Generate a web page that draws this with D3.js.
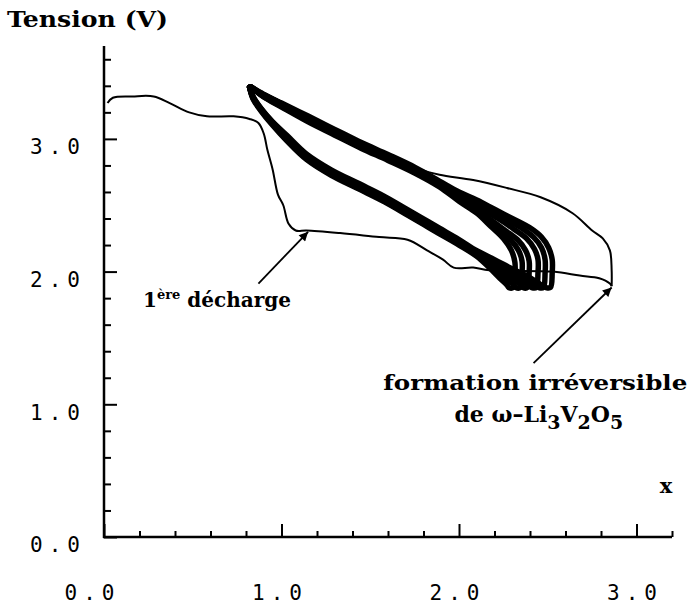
<!DOCTYPE html>
<html><head><meta charset="utf-8">
<script src="https://cdn.jsdelivr.net/npm/d3@7"></script>
<style>body{margin:0;background:#fff}svg{display:block}</style>
</head><body><svg id="c" width="696" height="611"></svg>
<script>
// ---- data ----
const xMajor = [0, 1, 2, 3];
const xMinor = [0.2,0.4,0.6,0.8,1.2,1.4,1.6,1.8,2.2,2.4,2.6,2.8,3.2];
const yMajor = [0, 1, 2, 3];
const yMinor = [0.2,0.4,0.6,0.8,1.2,1.4,1.6,1.8,2.2,2.4,2.6,2.8,3.2,3.4,3.6];

const firstDischarge = [[0.02,3.27],[0.05,3.31],[0.16,3.32],[0.28,3.32],[0.37,3.27],[0.48,3.20],[0.58,3.17],[0.73,3.17],[0.82,3.15],[0.87,3.12],[0.90,3.04],[0.92,2.92],[0.95,2.77],[0.98,2.58],[1.01,2.50],[1.04,2.36],[1.08,2.31],[1.14,2.31],[1.33,2.29],[1.55,2.26],[1.71,2.24],[1.82,2.16],[1.91,2.09],[1.97,2.03],[2.08,2.03],[2.17,2.01],[2.53,2.00],[2.68,1.97],[2.79,1.95],[2.85,1.91],[2.86,1.89]];
const firstCharge = [[2.86,1.89],[2.86,2.01],[2.85,2.16],[2.81,2.25],[2.75,2.31],[2.64,2.44],[2.46,2.56],[2.27,2.63],[2.08,2.69],[1.89,2.73],[1.78,2.77],[1.65,2.85],[1.50,2.94],[1.35,3.03],[1.20,3.13],[1.05,3.24],[0.93,3.33],[0.83,3.39]];

// subsequent cycles: discharge (top-left -> bottom-right) then charge (bottom-right -> top-left)
const cycle1Discharge = [[0.82,3.39],[0.84,3.30],[0.885,3.21],[0.945,3.11],[1.03,2.985],[1.14,2.845],[1.28,2.725],[1.43,2.625],[1.58,2.525],[1.71,2.425],[1.80,2.355],[1.89,2.285],[2.00,2.20],[2.10,2.115],[2.17,2.03],[2.23,1.95],[2.27,1.90],[2.28,1.88]];
const cycle1Charge = [[2.305,1.88],[2.315,1.98],[2.315,2.07],[2.295,2.16],[2.25,2.25],[2.18,2.34],[2.10,2.44],[2.00,2.53],[1.89,2.638],[1.75,2.743],[1.60,2.838],[1.45,2.928],[1.30,3.028],[1.15,3.128],[1.00,3.24],[0.90,3.315],[0.83,3.39]];
const cycle2Discharge = [[0.82,3.39],[0.84,3.305],[0.885,3.215],[0.945,3.118],[1.03,2.992],[1.14,2.852],[1.28,2.732],[1.43,2.632],[1.58,2.532],[1.71,2.432],[1.80,2.362],[1.89,2.292],[2.00,2.207],[2.10,2.122],[2.18,2.04],[2.25,1.96],[2.30,1.91],[2.32,1.88]];
const cycle2Charge = [[2.345,1.88],[2.355,1.99],[2.355,2.08],[2.335,2.16],[2.29,2.24],[2.22,2.32],[2.15,2.40],[2.07,2.48],[2.00,2.545],[1.89,2.647],[1.75,2.752],[1.60,2.847],[1.45,2.937],[1.30,3.037],[1.15,3.137],[1.00,3.245],[0.90,3.318],[0.83,3.39]];
const cycle3Discharge = [[0.82,3.39],[0.84,3.31],[0.885,3.22],[0.945,3.123],[1.03,3.001],[1.14,2.861],[1.28,2.741],[1.43,2.641],[1.58,2.541],[1.71,2.441],[1.80,2.371],[1.89,2.301],[2.00,2.216],[2.10,2.131],[2.20,2.05],[2.27,1.98],[2.33,1.92],[2.36,1.88]];
const cycle3Charge = [[2.385,1.88],[2.395,1.99],[2.395,2.08],[2.375,2.16],[2.33,2.24],[2.26,2.31],[2.18,2.39],[2.10,2.47],[2.00,2.56],[1.89,2.656],[1.75,2.761],[1.60,2.856],[1.45,2.946],[1.30,3.046],[1.15,3.146],[1.00,3.25],[0.90,3.322],[0.83,3.39]];
const cycle4Discharge = [[0.82,3.39],[0.84,3.31],[0.885,3.22],[0.945,3.127],[1.03,3.009],[1.14,2.869],[1.28,2.749],[1.43,2.649],[1.58,2.549],[1.71,2.449],[1.80,2.379],[1.89,2.309],[2.00,2.224],[2.10,2.139],[2.20,2.07],[2.28,2.00],[2.35,1.93],[2.39,1.90],[2.41,1.88]];
const cycle4Charge = [[2.435,1.88],[2.445,1.99],[2.445,2.09],[2.425,2.17],[2.38,2.25],[2.31,2.32],[2.22,2.40],[2.13,2.47],[2.05,2.53],[1.97,2.59],[1.89,2.664],[1.75,2.769],[1.60,2.864],[1.45,2.954],[1.30,3.054],[1.15,3.154],[1.00,3.26],[0.90,3.328],[0.83,3.39]];
const cycle5Discharge = [[0.82,3.39],[0.84,3.315],[0.885,3.225],[0.945,3.132],[1.03,3.018],[1.14,2.878],[1.28,2.758],[1.43,2.658],[1.58,2.558],[1.71,2.458],[1.80,2.388],[1.89,2.318],[2.00,2.233],[2.10,2.148],[2.20,2.08],[2.30,2.00],[2.37,1.95],[2.42,1.91],[2.45,1.88]];
const cycle5Charge = [[2.475,1.88],[2.485,1.99],[2.485,2.09],[2.465,2.18],[2.42,2.26],[2.35,2.33],[2.26,2.40],[2.17,2.47],[2.08,2.54],[2.00,2.59],[1.89,2.673],[1.75,2.778],[1.60,2.873],[1.45,2.963],[1.30,3.063],[1.15,3.163],[1.00,3.265],[0.90,3.332],[0.83,3.39]];
const cycle6Discharge = [[0.82,3.39],[0.84,3.32],[0.885,3.23],[0.945,3.136],[1.03,3.027],[1.14,2.887],[1.28,2.767],[1.43,2.667],[1.58,2.567],[1.71,2.467],[1.80,2.397],[1.89,2.327],[2.00,2.242],[2.10,2.157],[2.20,2.09],[2.30,2.02],[2.38,1.97],[2.44,1.92],[2.49,1.88]];
const cycle6Charge = [[2.515,1.88],[2.525,1.99],[2.525,2.09],[2.505,2.18],[2.465,2.26],[2.40,2.33],[2.30,2.40],[2.20,2.47],[2.10,2.54],[2.00,2.60],[1.89,2.682],[1.75,2.787],[1.60,2.882],[1.45,2.972],[1.30,3.072],[1.15,3.172],[1.00,3.27],[0.90,3.336],[0.83,3.39]];

const cycles = [
  cycle1Discharge.concat(cycle1Charge), cycle2Discharge.concat(cycle2Charge),
  cycle3Discharge.concat(cycle3Charge), cycle4Discharge.concat(cycle4Charge),
  cycle5Discharge.concat(cycle5Charge), cycle6Discharge.concat(cycle6Charge)
];

const arrows = [ {from:[0.87,1.91], to:[1.15,2.30]}, {from:[2.42,1.31], to:[2.86,1.88]} ];

// ---- layout ----
const svg = d3.select("#c");
const x = d3.scaleLinear().domain([0, 3.2]).range([104, 672]);
const y = d3.scaleLinear().domain([0, 3.7]).range([537, 46]);
const fmt = d3.format(".1f");
const tickFont = "DejaVu Sans Mono";

const line = d3.line().x(d => x(d[0])).y(d => y(d[1])).curve(d3.curveCatmullRom.alpha(0.5));

// x axis
svg.append("g").attr("transform", "translate(0,537)")
  .call(d3.axisBottom(x).tickValues(xMinor).tickSize(-6).tickFormat(""));
const gx = svg.append("g").attr("transform", "translate(0,537)")
  .call(d3.axisBottom(x).tickValues(xMajor).tickSize(-13).tickFormat(fmt).tickPadding(0));
svg.selectAll(".domain").remove();
gx.append("line").attr("x1", x(0) - 1).attr("x2", x(3.2)).attr("stroke", "#000").attr("stroke-width", 2.5);
gx.selectAll(".tick text")
  .attr("y", 48).attr("dy", "0.71em")
  .attr("x", d => d === 0 ? -12 : -2)
  .attr("font-family", tickFont).attr("font-size", 21).attr("letter-spacing", 6)
  .attr("fill", "#000");

// y axis
svg.append("g").attr("transform", "translate(104,0)")
  .call(d3.axisLeft(y).tickValues(yMinor).tickSize(-7).tickFormat(""));
const gy = svg.append("g").attr("transform", "translate(104,0)")
  .call(d3.axisLeft(y).tickValues(yMajor).tickSize(-13).tickFormat(fmt).tickPadding(18));
svg.selectAll(".domain").remove();
gy.append("line").attr("y1", y(0) + 1).attr("y2", y(3.7)).attr("stroke", "#000").attr("stroke-width", 2.5);
gy.selectAll(".tick text")
  .attr("dy", "0.32em").attr("y", 8)
  .attr("font-family", tickFont).attr("font-size", 21).attr("letter-spacing", 6)
  .attr("fill", "#000");
svg.selectAll(".tick line").attr("stroke", "#000").attr("stroke-width", 2);

// curves
svg.append("path").datum(firstDischarge).attr("d", line)
  .attr("fill", "none").attr("stroke", "#000").attr("stroke-width", 2);
svg.append("path").datum(firstCharge).attr("d", line)
  .attr("fill", "none").attr("stroke", "#000").attr("stroke-width", 2);
svg.append("g").selectAll("path").data(cycles).join("path").attr("d", line)
  .attr("fill", "none").attr("stroke", "#000").attr("stroke-width", 5.5)
  .attr("stroke-linejoin", "round").attr("stroke-linecap", "round");

// arrows
svg.append("defs").append("marker").attr("id", "ah")
  .attr("viewBox", "0 0 10 10").attr("refX", 10).attr("refY", 5)
  .attr("markerWidth", 14).attr("markerHeight", 9).attr("markerUnits", "userSpaceOnUse")
  .attr("orient", "auto")
  .append("path").attr("d", "M0,0 L10,5 L0,10 Z").attr("fill", "#000");
svg.append("g").selectAll("line").data(arrows).join("line")
  .attr("x1", d => x(d.from[0])).attr("y1", d => y(d.from[1]))
  .attr("x2", d => x(d.to[0])).attr("y2", d => y(d.to[1]))
  .attr("stroke", "#000").attr("stroke-width", 1.8).attr("marker-end", "url(#ah)");

// texts
const serif = "DejaVu Serif";
svg.append("text").attr("x", 7).attr("y", 27)
  .attr("font-family", serif).attr("font-weight", "bold").attr("font-size", 22)
  .attr("textLength", 161).attr("lengthAdjust", "spacingAndGlyphs")
  .text("Tension (V)");

svg.append("text").attr("x", x(3.2) - 6).attr("y", 493).attr("text-anchor", "middle")
  .attr("font-family", serif).attr("font-weight", "bold").attr("font-size", 21).text("x");

const t1 = svg.append("text").attr("x", x(0.22)).attr("y", y(1.73))
  .attr("font-family", serif).attr("font-weight", "bold").attr("font-size", 20);
t1.append("tspan").text("1");
t1.append("tspan").attr("dy", -8).attr("font-size", 13).text("ère");
t1.append("tspan").attr("dy", 8).text(" décharge");

svg.append("text").attr("x", x(2.43)).attr("y", y(1.11)).attr("text-anchor", "middle")
  .attr("font-family", serif).attr("font-weight", "bold").attr("font-size", 21)
  .attr("textLength", 304).attr("lengthAdjust", "spacingAndGlyphs")
  .text("formation irréversible");

const t3 = svg.append("text").attr("x", x(2.45)).attr("y", y(0.87)).attr("text-anchor", "middle")
  .attr("font-family", serif).attr("font-weight", "bold").attr("font-size", 22);
t3.append("tspan").text("de ω–Li");
t3.append("tspan").attr("dy", 7).attr("font-size", 19).text("3");
t3.append("tspan").attr("dy", -7).text("V");
t3.append("tspan").attr("dy", 7).attr("font-size", 19).text("2");
t3.append("tspan").attr("dy", -7).text("O");
t3.append("tspan").attr("dy", 7).attr("font-size", 19).text("5");
</script></body></html>
